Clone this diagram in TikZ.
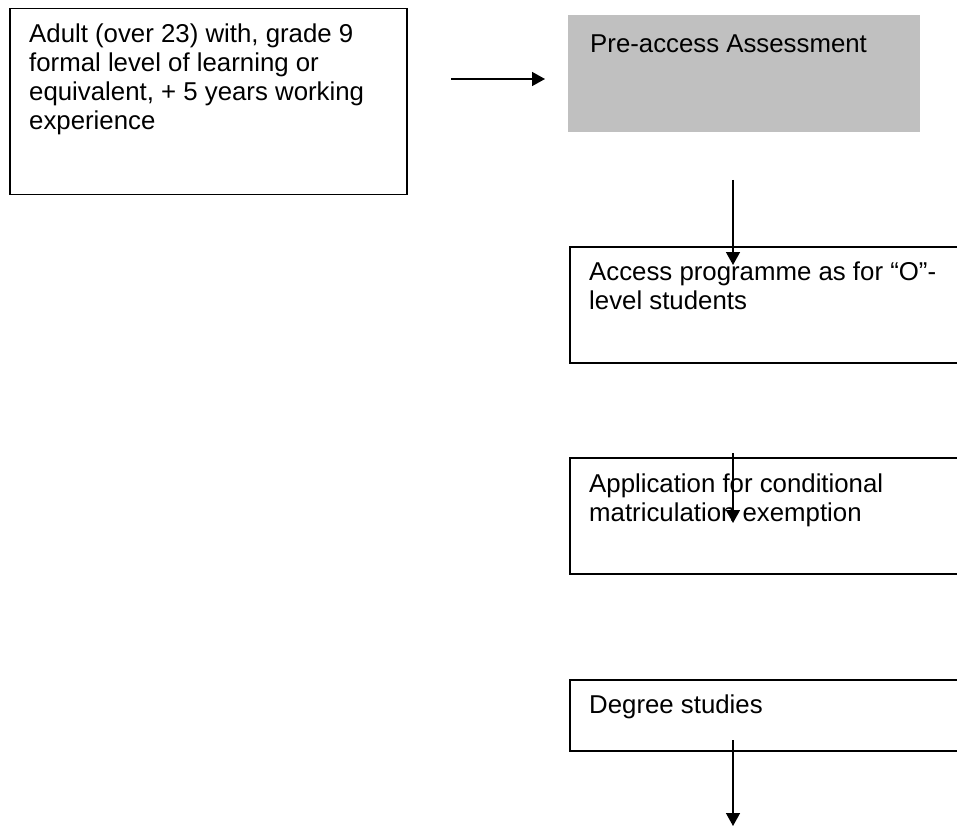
\documentclass[tikz,border=0pt]{standalone}
\usepackage{fontspec}
\setmainfont{Liberation Sans}
\usetikzlibrary{arrows.meta}
\definecolor{graybg}{HTML}{C0C0C0}
\begin{document}
\begin{tikzpicture}[x=1pt,y=-1pt,
  box/.style={draw=black, line width=1.5pt, fill=white, inner sep=0pt, anchor=north west},
  graybox/.style={fill=graybg, draw=none, inner sep=0pt, anchor=north west},
  txt/.style={inner sep=0pt, anchor=base west, font=\fontsize{25.8}{29}\selectfont},
  arr/.style={line width=1.5pt, -{Triangle[length=13pt,width=14pt]}}]
\useasboundingbox (0,0) rectangle (957,826);
\clip (0,0) rectangle (957,826);
% boxes
\node[box, minimum width=397pt, minimum height=186pt] (adult) at (9,8) {};
\node[graybox, minimum width=352pt, minimum height=117pt] (pre) at (568,15) {};
\node[box, minimum width=400pt, minimum height=116pt] (access) at (569,246) {};
\node[box, minimum width=400pt, minimum height=116pt] (appl) at (569,457) {};
\node[box, minimum width=400pt, minimum height=71pt] (degree) at (569,679) {};
% texts
\node[txt] (adultT) at ([shift={(20,35)}]adult.north west) {\parbox[t]{370pt}{Adult (over 23) with, grade 9\\formal level of learning or\\equivalent, + 5 years working\\experience}};
\node[txt] (preT) at ([shift={(22,38)}]pre.north west) {Pre-access Assessment};
\node[txt] (accessT) at ([shift={(20,34)}]access.north west) {\parbox[t]{370pt}{Access programme as for “O”-\\level students}};
\node[txt] (applT) at ([shift={(20,35)}]appl.north west) {\parbox[t]{370pt}{Application for conditional\\matriculation exemption}};
\node[txt] (degreeT) at ([shift={(20,34)}]degree.north west) {Degree studies};
% arrows
\coordinate (a1s) at (451,79);
\coordinate (a1e) at (545,79);
\coordinate (a2s) at (733,180);
\coordinate (a2e) at (733,265);
\coordinate (a3s) at (733,453);
\coordinate (a3e) at (733,523);
\coordinate (a4s) at (733,740);
\coordinate (a4e) at (733,826);
\draw[arr] (a1s) -- (a1e);
\draw[arr] (a2s) -- (a2e);
\draw[arr] (a3s) -- (a3e);
\draw[arr] (a4s) -- (a4e);
\end{tikzpicture}
\end{document}
